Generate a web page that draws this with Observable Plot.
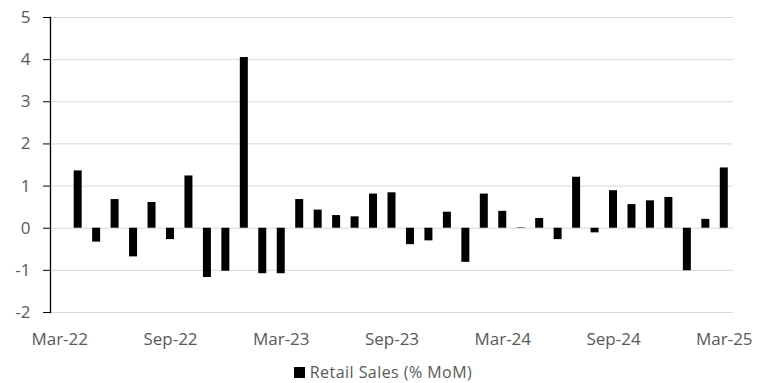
<!DOCTYPE html>
<html>
<head>
<meta charset="utf-8">
<script src="https://cdn.jsdelivr.net/npm/d3@7"></script>
<script src="https://cdn.jsdelivr.net/npm/@observablehq/plot@0.6"></script>
<style>
  body { margin: 0; background: #fff; font-family: "Open Sans", sans-serif; }
  #chart { width: 766px; height: 352px; }
  #legend { height: 31px; display: flex; justify-content: center; align-items: center; padding-top: 10px; padding-bottom: 1px; box-sizing: border-box; color: #595959; font-size: 16px; line-height: 20px; letter-spacing: 0.45px; }
  #legend .sw { width: 11px; height: 11px; background: #000; margin-right: 5px; }
</style>
</head>
<body>
<div id="chart"></div>
<div id="legend"><div class="sw"></div><span>Retail Sales (% MoM)</span></div>
<script>
const months = ["Mar-22","Apr-22","May-22","Jun-22","Jul-22","Aug-22","Sep-22","Oct-22","Nov-22","Dec-22",
  "Jan-23","Feb-23","Mar-23","Apr-23","May-23","Jun-23","Jul-23","Aug-23","Sep-23","Oct-23","Nov-23","Dec-23",
  "Jan-24","Feb-24","Mar-24","Apr-24","May-24","Jun-24","Jul-24","Aug-24","Sep-24","Oct-24","Nov-24","Dec-24",
  "Jan-25","Feb-25","Mar-25"];
const retailSales = [null, 1.36, -0.33, 0.68, -0.68, 0.61, -0.27, 1.24, -1.17, -1.02,
  4.05, -1.08, -1.08, 0.68, 0.43, 0.30, 0.27, 0.81, 0.84, -0.39, -0.30, 0.38,
  -0.81, 0.81, 0.40, 0.01, 0.23, -0.27, 1.21, -0.11, 0.89, 0.56, 0.65, 0.73,
  -1.01, 0.21, 1.43];
const xTickLabels = ["Mar-22","Sep-22","Mar-23","Sep-23","Mar-24","Sep-24","Mar-25"];
const yTicks = [-2, -1, 0, 1, 2, 3, 4, 5];

const data = months.map((m, i) => ({month: m, value: retailSales[i]}));

const chart = Plot.plot({
  width: 766,
  height: 352,
  marginTop: 17,
  marginBottom: 40,
  marginLeft: 50,
  marginRight: 33,
  style: {fontFamily: "Open Sans, sans-serif", fontSize: "17px", background: "#fff"},
  x: {type: "band", domain: months, paddingInner: 0.567, paddingOuter: 0.283, round: false},
  y: {domain: [-2, 5]},
  marks: [
    Plot.gridY(yTicks, {stroke: "#d9d9d9", strokeOpacity: 1, strokeWidth: 1}),
    Plot.barY(data.filter(d => d.value !== null), {x: "month", y: "value", fill: "#000"}),
    Plot.frame({anchor: "left", stroke: "#000", strokeWidth: 1.3}),
    Plot.axisY({ticks: yTicks, tickSize: 7, tickPadding: 13, stroke: "#000", fill: "#595959", fontSize: 17, tickFormat: d => d < 0 ? "-" + Math.abs(d) : String(d), label: null}),
    Plot.axisX({ticks: xTickLabels, tickSize: 0, tickPadding: 20, fill: "#595959", fontSize: 17, label: null})
  ]
});
document.getElementById("chart").appendChild(chart);
</script>
</body>
</html>
